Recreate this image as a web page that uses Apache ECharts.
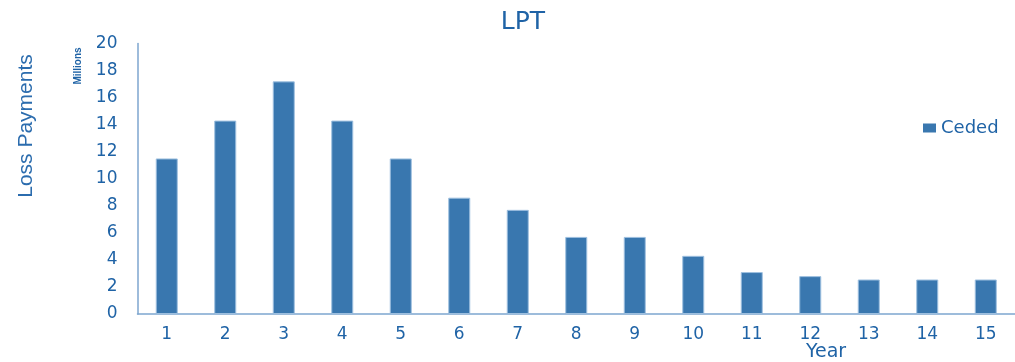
<!DOCTYPE html>
<html>
<head>
<meta charset="utf-8">
<script src="https://cdn.jsdelivr.net/npm/echarts@6/dist/echarts.min.js"></script>
<style>
  html, body { margin: 0; padding: 0; background: #ffffff; }
  #chart { width: 1015px; height: 362px; }
</style>
</head>
<body>
<div id="chart"></div>
<script>
// Loss payments by development year, in millions
const years = ['1','2','3','4','5','6','7','8','9','10','11','12','13','14','15'];
const ceded = [11.5, 14.3, 17.2, 14.3, 11.5, 8.6, 7.7, 5.7, 5.7, 4.3, 3.1, 2.8, 2.55, 2.55, 2.55];
const yTicks = { min: 0, max: 20, interval: 2 };

const textBlue = '#1f63a6';
const axisBlue = '#7ea6cf';
const barBlue = '#3977af';
const font = 'DejaVu Sans';

const chart = echarts.init(document.getElementById('chart'), null, { renderer: 'canvas' });
chart.setOption({
  animation: false,
  backgroundColor: '#ffffff',
  title: {
    text: 'LPT',
    left: 518, top: 5, textAlign: 'center',
    textStyle: { color: textBlue, fontFamily: font, fontSize: 25, fontWeight: 'normal' }
  },
  legend: {
    data: ['Ceded'],
    left: 918, top: 114,
    itemWidth: 13, itemHeight: 9, itemGap: 6,
    icon: 'rect',
    itemStyle: { borderWidth: 0 },
    textStyle: { color: textBlue, fontFamily: font, fontSize: 18, padding: [0, 0, 0, 0] }
  },
  grid: { left: 137.5, top: 43.5, bottom: 48, right: -7.5, containLabel: false },
  xAxis: {
    type: 'category',
    data: years,
    axisLine: { show: true, lineStyle: { color: axisBlue, width: 1.5 } },
    axisTick: { show: false },
    axisLabel: { color: textBlue, fontFamily: font, fontSize: 17, margin: 12 }
  },
  yAxis: {
    type: 'value',
    min: yTicks.min, max: yTicks.max, interval: yTicks.interval,
    axisLine: { show: true, lineStyle: { color: axisBlue, width: 1.5 } },
    axisTick: { show: false },
    splitLine: { show: false },
    axisLabel: { color: textBlue, fontFamily: font, fontSize: 17, margin: 20 }
  },
  graphic: [
    {
      type: 'text', x: 26, y: 126, rotation: Math.PI / 2,
      style: { text: 'Loss Payments', fill: '#2b6cae', font: '21px "Liberation Sans Narrow", "Liberation Sans", sans-serif',
               textAlign: 'center', textVerticalAlign: 'middle' }
    },
    {
      type: 'text', x: 78, y: 66, rotation: Math.PI / 2,
      style: { text: 'Millions', fill: textBlue, font: 'bold 10px "Liberation Sans Narrow", "Liberation Sans", sans-serif',
               textAlign: 'center', textVerticalAlign: 'middle' }
    },
    {
      type: 'text', x: 826, y: 352,
      style: { text: 'Year', fill: textBlue, font: '19px "DejaVu Sans", sans-serif',
               textAlign: 'center', textVerticalAlign: 'middle' }
    }
  ],
  series: [{
    name: 'Ceded',
    type: 'bar',
    data: ceded,
    barWidth: 22,
    itemStyle: { color: barBlue, borderColor: '#9dbfdf', borderWidth: 1 }
  }]
});
</script>
</body>
</html>
